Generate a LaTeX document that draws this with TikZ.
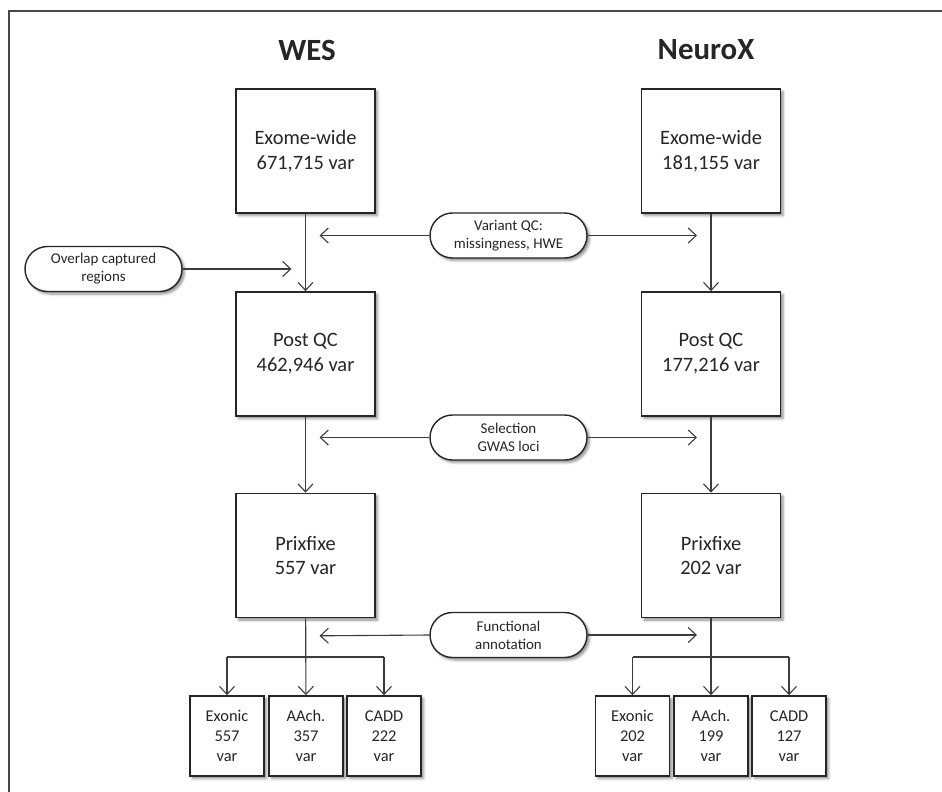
\documentclass[tikz,border=0pt]{standalone}
\usepackage{fontspec}
\setmainfont{Carlito}
\usetikzlibrary{arrows.meta,shapes.misc,shadows.blur,calc}
\definecolor{ink}{HTML}{262626}
\begin{document}
\begin{tikzpicture}[x=1bp,y=-1bp,
  softshadow/.style={blur shadow={shadow xshift=2.5bp, shadow yshift=-2.5bp, shadow blur radius=2.5bp, shadow opacity=45}},
  boxbase/.style={draw=ink, line width=1.7bp, fill=white, align=center, text=ink, inner sep=0pt, softshadow},
  bigbox/.style={boxbase, minimum width=139bp, minimum height=124bp, font=\fontsize{20.5}{25}\selectfont},
  smallbox/.style={boxbase, minimum width=74bp, minimum height=80bp, font=\fontsize{16.5}{20}\selectfont},
  pill/.style={rounded rectangle, draw=ink, line width=1.4bp, fill=white, align=center, text=ink, inner sep=0pt,
    minimum width=157bp, minimum height=45bp, font=\fontsize{15}{18}\selectfont, softshadow},
  title/.style={font=\fontsize{31}{35}\selectfont\bfseries, text=ink},
  conn/.style={draw=ink!90, line width=1.1bp},
  arr/.style={conn, -{Straight Barb[length=8bp, width=15bp, line width=1.1bp]}}
]
\useasboundingbox (0,0) rectangle (942,792);
\draw[draw=ink!85, line width=1.3bp] (942,11) -- (9,11) -- (9,792);

% titles
\node[title] (twes) at (307,50) {WES};
\node[title] (tnx) at (706,50) {NeuroX};

% left column
\node[bigbox] (l1) at (305.5,151) {Exome-wide\\671,715 var};
\node[bigbox] (l2) at (305.5,354) {Post QC\\462,946 var};
\node[bigbox] (l3) at (305.5,555.5) {Prixfixe\\557 var};
% right column
\node[bigbox] (r1) at (711,151) {Exome-wide\\181,155 var};
\node[bigbox] (r2) at (711,354) {Post QC\\177,216 var};
\node[bigbox] (r3) at (711,555.5) {Prixfixe\\202 var};

% small boxes
\node[smallbox] (la) at (227,736) {Exonic\\557\\var};
\node[smallbox] (lb) at (306,736) {AAch.\\357\\var};
\node[smallbox] (lc) at (384,736) {CADD\\222\\var};
\node[smallbox] (ra) at (632.5,736) {Exonic\\202\\var};
\node[smallbox] (rb) at (711,736) {AAch.\\199\\var};
\node[smallbox] (rc) at (789,736) {CADD\\127\\var};

% pills
\node[pill] (ovl) at (103.5,269) {Overlap captured\\regions};
\node[pill] (vqc) at (508.5,235.5) {Variant QC:\\missingness, HWE};
\node[pill] (sel) at (508.5,437.5) {Selection\\GWAS loci};
\node[pill] (fun) at (508.5,635) {Functional\\annotation};

% tip coordinates
\coordinate (ovlT) at ($(l1.south)!(ovl.east)!(l2.north)+(-14,0)$);
\coordinate (vqcL) at ($(l1.south)!(vqc.west)!(l2.north)+(14,0)$);
\coordinate (vqcR) at ($(r1.south)!(vqc.east)!(r2.north)+(-14,0)$);
\coordinate (selL) at ($(l2.south)!(sel.west)!(l3.north)+(14,0)$);
\coordinate (selR) at ($(r2.south)!(sel.east)!(r3.north)+(-14,0)$);
\coordinate (funL) at ($(l3.south)!(fun.west)!(lb.north)+(14,0)$);
\coordinate (funR) at ($(r3.south)!(fun.east)!(rb.north)+(-14,0)$);

% vertical flow
\draw[arr] (l1) -- (l2);
\draw[arr] (l2) -- (l3);
\draw[arr] (r1) -- (r2);
\draw[arr] (r2) -- (r3);
\draw[arr] (l3) -- (lb);
\draw[arr] (r3) -- (rb);

% branches
\coordinate (lbr) at (306,657);
\coordinate (rbr) at (711,657);
\draw[conn] (la.north |- lbr) -- (lc.north |- lbr);
\draw[arr] (la.north |- lbr) -- (la.north);
\draw[arr] (lc.north |- lbr) -- (lc.north);
\draw[conn] (ra.north |- rbr) -- (rc.north |- rbr);
\draw[arr] (ra.north |- rbr) -- (ra.north);
\draw[arr] (rc.north |- rbr) -- (rc.north);

% side arrows
\draw[arr] (ovl.east) -- (ovlT);
\draw[arr] (vqc.west) -- (vqcL);
\draw[arr] (vqc.east) -- (vqcR);
\draw[arr] (sel.west) -- (selL);
\draw[arr] (sel.east) -- (selR);
\draw[arr] (fun.west) -- (funL);
\draw[arr] (fun.east) -- (funR);
\end{tikzpicture}
\end{document}
